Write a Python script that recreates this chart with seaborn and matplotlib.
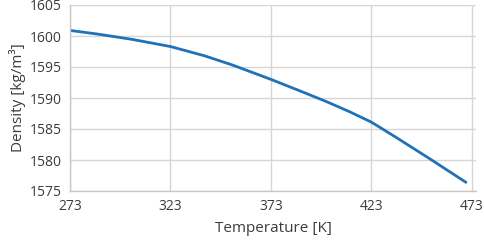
import matplotlib
matplotlib.use("Agg")
import matplotlib.pyplot as plt
import seaborn as sns
import pandas as pd

temperature = [273, 287, 304, 323, 340, 354, 373, 387, 400, 412, 423, 435, 452, 470]
density = [1600.9, 1600.3, 1599.45, 1598.3, 1596.8, 1595.3, 1593.0, 1591.2, 1589.5,
           1587.8, 1586.1, 1583.7, 1580.2, 1576.4]
x_ticks = [273, 323, 373, 423, 473]
y_ticks = [1575, 1580, 1585, 1590, 1595, 1600, 1605]

sns.set_theme(style="whitegrid")
plt.rcParams['font.family'] = ['Open Sans', 'DejaVu Sans']

df = pd.DataFrame({"T": temperature, "rho": density})

fig = plt.figure(figsize=(4.84, 2.46), dpi=100)
ax = fig.add_axes([70/484, 1-191/246, (476-70)/484, (191-5)/246])
sns.lineplot(data=df, x="T", y="rho", ax=ax, color="#1f72b8", linewidth=2.0)
ax.lines[0].set_solid_joinstyle("round")

ax.set_xlim(273, 475)
ax.set_ylim(1575, 1605)
ax.set_xticks(x_ticks)
ax.set_yticks(y_ticks)
ax.grid(True, color="#d6d6d6", linewidth=1.0)
ax.set_axisbelow(True)
for s in ["top", "right"]:
    ax.spines[s].set_visible(False)
for s in ["left", "bottom"]:
    ax.spines[s].set_color("#c8c8c8")
    ax.spines[s].set_linewidth(1.0)
ax.tick_params(axis="both", length=0, labelsize=10, colors="#3c3c3c", pad=6)
ax.set_xlabel("Temperature [K]", fontsize=11, color="#3c3c3c", labelpad=5)
ax.set_ylabel("Density [kg/m³]", fontsize=11, color="#3c3c3c", labelpad=3)

fig.savefig("out.png", dpi=100)
